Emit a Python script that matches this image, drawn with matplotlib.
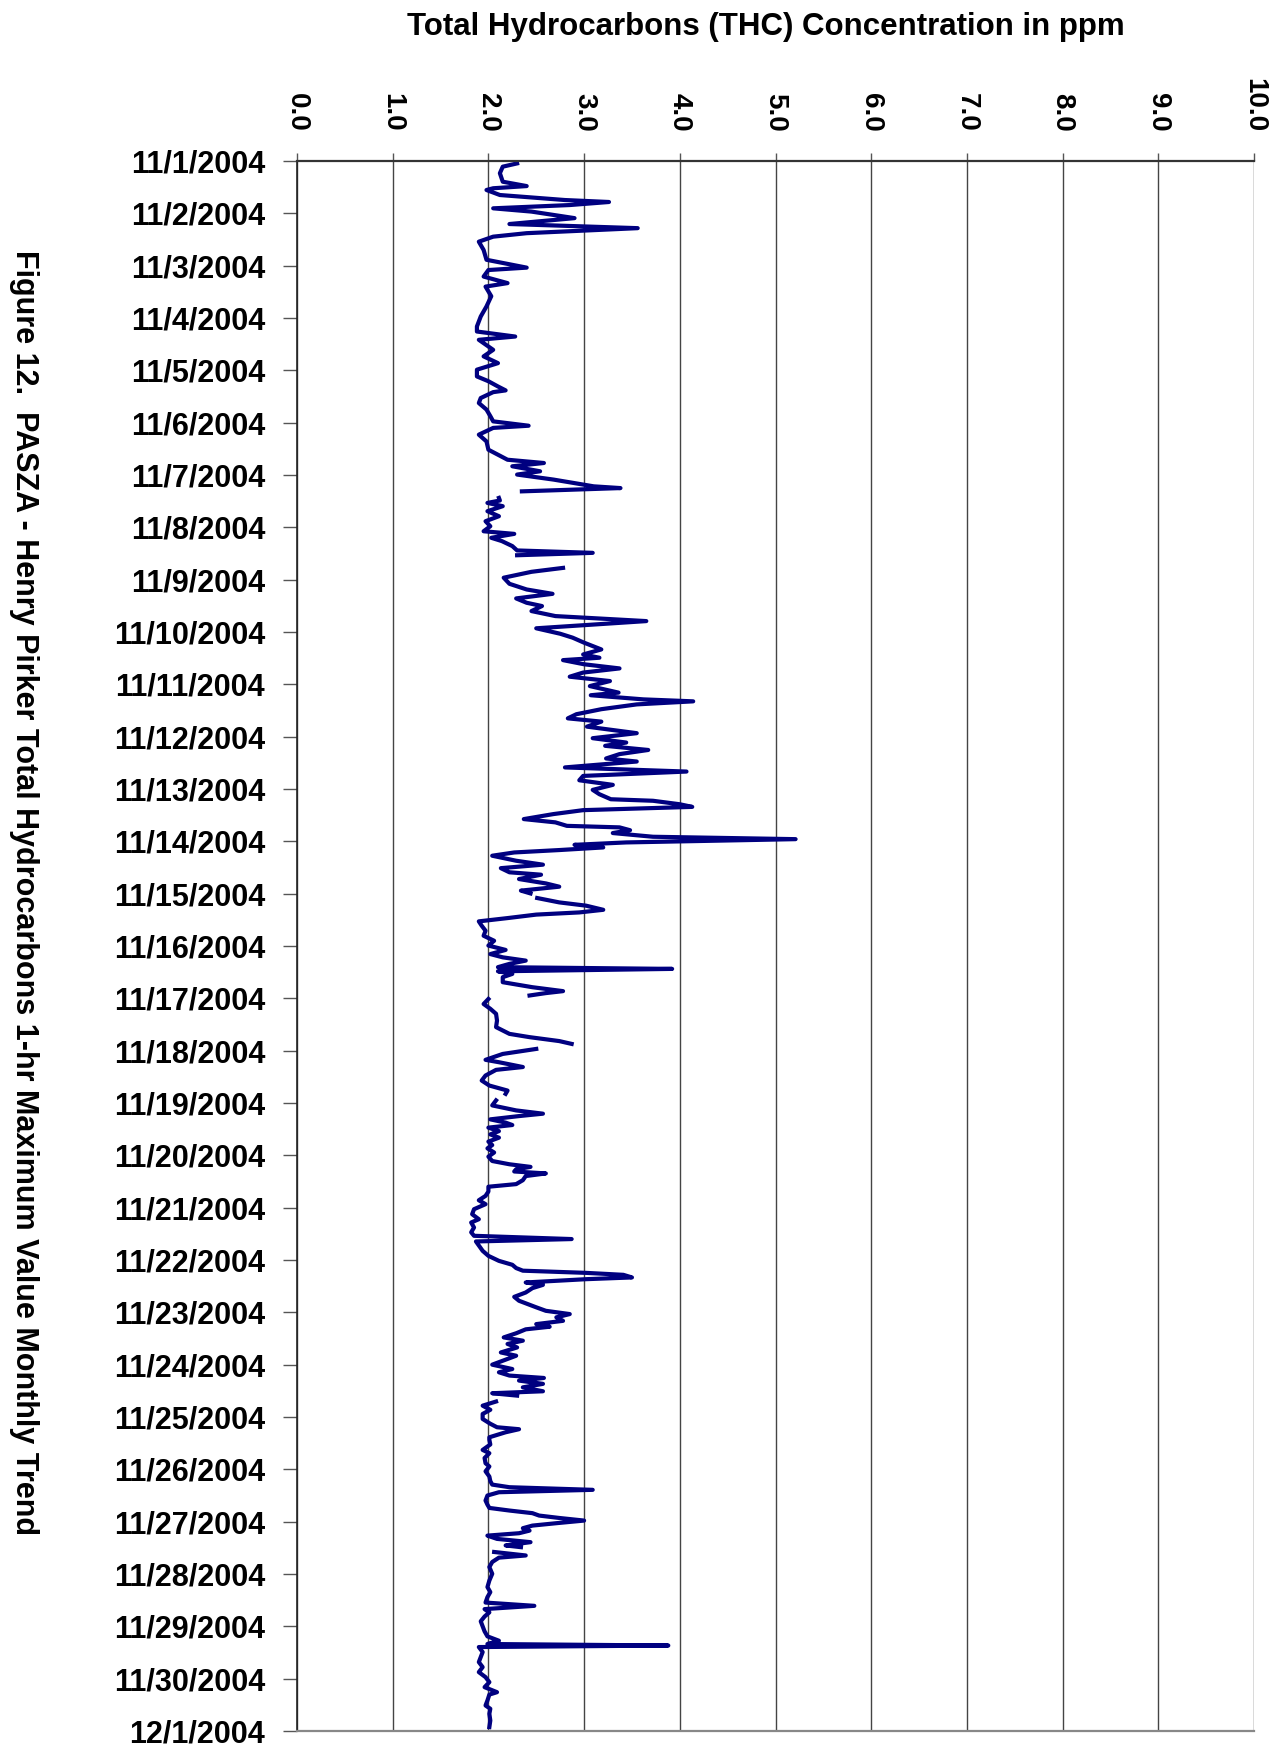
import numpy as np
import pandas as pd
import matplotlib
matplotlib.use("Agg")
import matplotlib.pyplot as plt

plt.rcParams['font.family'] = ['Liberation Sans', 'DejaVu Sans']
plt.rcParams['font.weight'] = 'bold'

NAN = float('nan')

# Hours since 11/1/2004 00:00 and the 1-hr maximum THC value (ppm); NaN marks data gaps
hours = [
    1.1, 2.6, 5.6, 9.5, 11.5, 12.5, 13.3, 15.6, 17.9, 18.8, 20.2, 21.7, 23.2, 26.2, 28.9, 30.8,
    33.1, 34.7, 37.0, 40.8, 45.3, 48.9, 50.0, 53.0, 56.0, 57.6, 62.0, 66.7, 71.3, 75.9, 78.2,
    80.5, 82.0, 86.6, 89.6, 92.7, 95.7, 98.8, 101.0, 103.4, 105.2, 106.0, 108.7, 111.0, 114.0,
    117.0, 119.4, 121.4, 122.4, 125.5, 128.6, 132.4, 134.7, 137.0, 138.5, 140.0, 142.3, 143.8,
    146.1, 149.2, 150.0, 151.5,
    153.0,
    154.5, 155.7, 156.8, 158.3, 160.6, 162.9, 165.2, 167.5, 169.8, 171.0, 172.8, 174.3, 176.6,
    178.6, 179.7, 180.8,
    183.5,
    186.6, 188.4, 191.1, 193.9, 196.5, 198.5, 200.6, 202.6, 204.1, 206.4, 208.7, 211.0, 214.3,
    216.8, 218.6, 220.9, 224.0, 226.3, 227.8, 228.9, 230.8, 232.7, 234.6, 236.5, 238.5, 240.8,
    243.8, 245.0, 246.9, 247.8, 249.2, 251.4, 253.7, 255.6, 257.1, 259.4, 262.4, 264.7, 266.7,
    268.2, 270.1, 272.0, 274.0, 275.4, 278.1, 280.0, 282.0, 284.0, 286.1, 288.4, 290.4, 292.7,
    293.4, 295.0, 296.2, 297.7, 299.5, 301.8, 303.3, 304.9, 305.6, 306.9, 308.2, 309.9, 311.0,
    312.5, 313.6, 314.8, 316.0, 317.1, 318.6, 320.9, 322.7, 324.3, 326.2, 327.3, 329.3, 331.3,
    332.8, 334.6, 335.9,
    337.0,
    338.0, 340.0, 341.5, 343.4, 344.6, 345.6, 347.2, 348.7, 350.7, 353.0, 355.3, 357.6, 359.8,
    361.8, 363.7, 365.2, 366.7, 368.2, 369.7, 370.5, 371.6, 372.8, 374.3, 376.6, 378.9, 380.7,
    381.6, 382.7,
    383.5,
    384.3, 386.6, 388.8, 391.1, 394.2, 397.2, 400.3, 401.8, 403.6, 404.9,
    406.0,
    407.2, 409.5, 412.2, 413.3, 415.5, 416.8, 419.4, 421.7, 424.0, 426.3, 427.8,
    429.3,
    430.8, 433.1, 435.4, 436.9, 438.0, 439.5, 441.0, 442.1, 443.3, 444.9, 446.4, 447.9, 449.7,
    451.3, 452.8, 454.7, 456.6, 458.6, 460.1, 461.3, 462.4, 463.4, 464.3, 465.5, 467.4, 469.2,
    470.4, 472.6, 474.6, 476.6, 478.4, 480.7, 483.0, 485.3, 486.8, 489.1, 491.3, 492.9, 494.4,
    495.5, 499.8, 502.1, 504.4, 506.2, 507.7, 508.9, 509.9, 510.8, 512.0, 512.8, 514.3, 515.4,
    516.9, 518.9, 520.9, 522.7, 524.2, 525.7, 527.3, 528.8, 530.3, 531.9, 533.4, 534.6, 535.8,
    537.6, 539.5, 541.0, 542.5, 544.1, 546.4, 547.9, 550.2, 552.0, 554.0, 555.5, 557.0, 558.1,
    559.3, 560.8, 562.4, 564.2, 565.1, 566.2,
    567.5,
    568.9, 570.8, 572.7, 574.6, 576.9, 579.1, 580.7, 581.6, 583.0, 585.3, 586.5, 588.6, 591.1,
    592.6, 594.8, 597.2, 598.7, 600.9, 603.3, 605.4, 607.0, 608.2, 609.4, 610.5, 612.0, 614.3,
    616.2, 617.7, 618.9, 620.1, 621.2, 622.3, 623.5, 624.7, 625.8, 627.0, 628.1, 629.3, 630.4,
    631.9, 633.4, 634.9, 635.7,
    636.8,
    637.9, 639.5, 640.5, 642.5, 644.8, 647.9, 651.0, 654.0, 656.3, 658.6, 661.1, 662.6, 664.1,
    665.6, 667.5, 669.7, 672.0, 674.3, 676.6, 678.6, 680.1, 680.8, 681.5, 683.8, 686.1, 688.4,
    690.7, 693.0, 695.3, 697.6, 699.9, 702.2, 703.3, 706.0, 708.3, 709.8, 712.1, 715.2, 718.2,
]

thc_ppm = [
    2.30, 2.15, 2.12, 2.15, 2.40, 2.05, 1.98, 2.12, 2.80, 3.26, 2.85, 2.05, 2.45, 2.90, 2.22, 3.56,
    2.40, 2.05, 1.90, 1.95, 1.98, 2.40, 2.00, 1.95, 2.20, 1.97, 2.03, 1.98, 1.92, 1.88, 1.88,
    2.28, 1.90, 2.05, 1.95, 2.10, 1.88, 1.88, 2.00, 2.10, 2.18, 2.05, 1.92, 1.90, 1.98,
    2.02, 2.05, 2.42, 2.05, 1.90, 1.98, 2.00, 2.10, 2.20, 2.58, 2.25, 2.54, 2.30,
    2.68, 3.10, 3.38, 2.35,
    NAN,
    2.11, 2.12, 1.99, 2.15, 1.99, 2.11, 1.97, 2.02, 1.95, 2.27, 2.03, 2.14, 2.25,
    2.30, 3.09, 2.30,
    NAN,
    2.78, 2.45, 2.16, 2.22, 2.40, 2.67, 2.29, 2.40, 2.56, 2.45, 2.70, 3.65, 2.50,
    2.75, 2.88, 3.00, 3.18, 2.99, 3.16, 2.78, 3.00, 3.37, 2.99, 2.85, 3.27, 3.06,
    3.36, 3.07, 3.62, 4.14, 3.55, 3.18, 2.92, 2.83, 3.18, 3.03, 3.55, 3.09, 3.44,
    3.22, 3.67, 3.37, 3.23, 3.55, 2.80, 4.07, 2.99, 2.95, 3.30, 3.09, 3.16, 3.28,
    3.72, 4.00, 4.13, 2.99, 2.68, 2.37, 2.70, 2.82, 3.37, 3.48, 3.30, 3.72, 5.21,
    3.44, 2.90, 3.20, 2.74, 2.27, 2.04, 2.29, 2.57, 2.13, 2.22, 2.55, 2.32, 2.60,
    2.74, 2.34, 2.44,
    NAN,
    2.51, 2.74, 3.02, 3.20, 2.95, 2.50, 2.20, 1.90, 1.93, 1.97, 1.95, 2.06, 2.00,
    2.18, 2.02, 2.15, 2.39, 2.22, 2.10, 3.92, 2.10, 2.25, 2.15, 2.15, 2.46, 2.78,
    2.60, 2.43,
    NAN,
    2.00, 1.95, 2.02, 2.08, 2.09, 2.08, 2.22, 2.43, 2.74, 2.87,
    NAN,
    2.50, 2.15, 1.97, 2.11, 2.36, 2.08, 1.97, 1.93, 2.01, 2.20, 2.18,
    NAN,
    2.08, 2.04, 2.29, 2.57, 2.32, 2.02, 2.18, 2.25, 2.00, 2.11, 2.02, 2.11, 2.00,
    2.04, 1.99, 2.06, 2.00, 2.04, 2.22, 2.44, 2.29, 2.27, 2.60, 2.39, 2.36, 2.29,
    2.00, 2.00, 1.97, 1.90, 1.97, 1.85, 1.83, 1.90, 1.82, 1.85, 1.82, 1.85, 2.87,
    1.87, 1.94, 2.00, 2.11, 2.25, 2.29, 2.36, 3.02, 3.41, 3.50, 3.02, 2.39, 2.57,
    2.46, 2.39, 2.27, 2.32, 2.41, 2.50, 2.60, 2.85, 2.71, 2.78, 2.50, 2.64, 2.39,
    2.29, 2.16, 2.36, 2.20, 2.30, 2.13, 2.29, 2.15, 2.04, 2.25, 2.11, 2.22, 2.58,
    2.32, 2.57, 2.36, 2.57, 2.04, 2.30,
    NAN,
    2.08, 1.94, 2.02, 1.94, 1.94, 2.02, 2.09, 2.32, 2.18, 2.01, 2.01, 2.02, 1.94,
    2.01, 1.96, 1.97, 2.01, 1.97, 2.01, 2.02, 2.04, 2.22, 3.09, 2.11, 1.99, 1.97,
    1.99, 2.01, 2.22, 2.46, 2.53, 2.74, 3.00, 2.71, 2.46, 2.36, 2.43, 2.32, 1.99,
    2.09, 2.44, 2.18, 2.34,
    NAN,
    2.06, 2.39, 2.11, 2.04, 2.01, 2.04, 2.01, 1.99, 2.02, 1.99, 1.97, 2.48, 1.96,
    2.01, 1.96, 1.92, 1.94, 1.96, 1.99, 2.11, 1.99, 3.88, 1.90, 1.94, 1.92, 1.90,
    1.94, 1.90, 1.97, 2.01, 1.96, 2.09, 2.01, 1.99, 1.97, 2.02, 2.01, 2.02, 2.01,
]

start_date = "2004-11-01"
end_date = "2004-12-01"
value_ticks = [0.0, 1.0, 2.0, 3.0, 4.0, 5.0, 6.0, 7.0, 8.0, 9.0, 10.0]
axis_title = "Total Hydrocarbons (THC) Concentration in ppm"
fig_title = "Figure 12.  PASZA - Henry Pirker Total Hydrocarbons 1-hr Maximum Value Monthly Trend"

start = pd.Timestamp(start_date)
times = start + pd.to_timedelta(np.array(hours), unit="h")
vals = np.array(thc_ppm, dtype=float)
day_ticks = pd.date_range(start_date, end_date, freq="D")

W, H = 1270, 1744
fig = plt.figure(figsize=(W / 100, H / 100), dpi=100)
left, right, top, bottom = 297, 1254, 161, 1731
ax = fig.add_axes([left / W, 1 - bottom / H, (right - left) / W, (bottom - top) / H])

ax.plot(vals, times, color="#000080", lw=3.0, solid_joinstyle="round")

ax.set_xlim(value_ticks[0], value_ticks[-1])
ax.set_ylim(day_ticks[-1], day_ticks[0])

ax.xaxis.tick_top()
ax.set_xticks(value_ticks)
ax.set_xticklabels([f"{v:.1f}" for v in value_ticks], rotation=-90, fontsize=20,
                   fontweight="bold")
ax.tick_params(axis="x", which="major", direction="out", length=6, width=1.0,
               color="#555555", pad=15)

ax.set_yticks(day_ticks)
ax.set_yticklabels([f"{d.month}/{d.day}/{d.year}" for d in day_ticks], fontsize=22,
                   fontweight="bold")
ax.tick_params(axis="y", which="major", direction="out", length=10, width=1.0,
               color="#555555", pad=13)

ax.grid(axis="x", color="#444444", lw=1.0)
ax.set_axisbelow(True)

ax.spines["right"].set_visible(False)
ax.spines["top"].set_color("#333333")
ax.spines["top"].set_linewidth(1.6)
ax.spines["left"].set_color("#222222")
ax.spines["left"].set_linewidth(1.2)
ax.spines["bottom"].set_color("#888888")
ax.spines["bottom"].set_linewidth(1.6)

fig.text(766 / W, 1 - 27 / H, axis_title, ha="center", va="center", fontsize=22.5,
         fontweight="bold")
fig.text(24 / W, 1 - 893 / H, fig_title, ha="center", va="center", rotation=-90,
         fontsize=22, fontweight="bold")

fig.savefig("out.png", dpi=100)
